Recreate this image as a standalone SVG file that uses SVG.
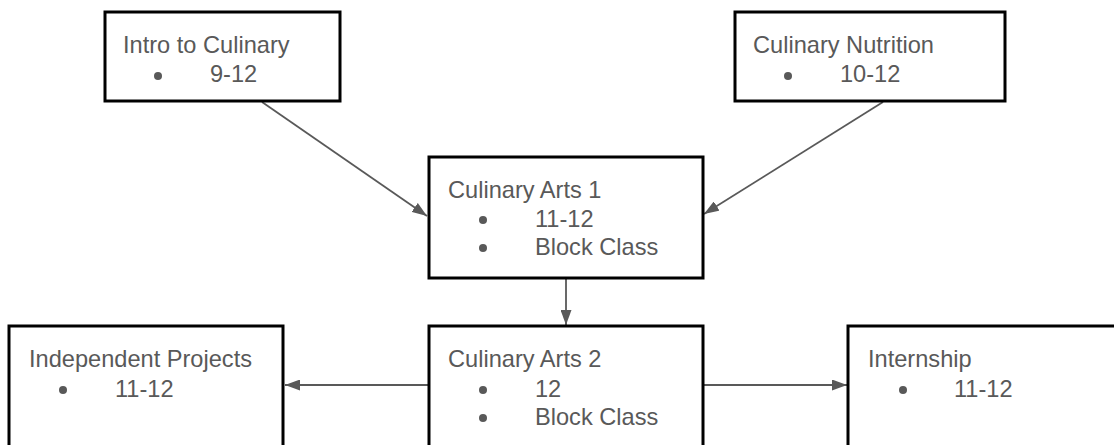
<svg xmlns="http://www.w3.org/2000/svg" width="1114" height="445" viewBox="0 0 1114 445">
<style>
.box{fill:#fff;stroke:#000;stroke-width:3}
.t{font-family:"Liberation Sans",Arial,sans-serif;font-size:23.6px;fill:#595959}
.b{fill:#595959}
.c{stroke:#595959;stroke-width:1.8;fill:none;marker-end:url(#ah)}
</style>
<defs>
<marker id="ah" viewBox="0 0 10 10" refX="10" refY="5" markerWidth="15" markerHeight="11" markerUnits="userSpaceOnUse" orient="auto" preserveAspectRatio="none">
<path d="M0,0 L10,5 L0,10 z" fill="#595959"/>
</marker>
</defs>
<rect width="1114" height="445" fill="#fff"/>
<g id="connectors">
<path d="M262,102 L427,216" class="c"/>
<path d="M883,102 L704,214" class="c"/>
<path d="M566,279 L566,325" class="c"/>
<path d="M428,385 L285,385" class="c"/>
<path d="M704,385 L847,385" class="c"/>
</g>
<g id="intro">
<rect class="box" x="105" y="12" width="235" height="89"/>
<text class="t" x="123" y="53">Intro to Culinary</text>
<circle class="b" cx="158" cy="76" r="4"/>
<text class="t" x="210" y="82">9-12</text>
</g>
<g id="nutrition">
<rect class="box" x="735" y="12" width="270" height="89"/>
<text class="t" x="753" y="53">Culinary Nutrition</text>
<circle class="b" cx="788" cy="76" r="4"/>
<text class="t" x="840" y="82">10-12</text>
</g>
<g id="arts1">
<rect class="box" x="429" y="157" width="274" height="121"/>
<text class="t" x="448" y="198">Culinary Arts 1</text>
<circle class="b" cx="483" cy="220" r="4"/>
<text class="t" x="535" y="227">11-12</text>
<circle class="b" cx="483" cy="248" r="4"/>
<text class="t" x="535" y="255">Block Class</text>
</g>
<g id="arts2">
<rect class="box" x="429" y="326" width="274" height="140"/>
<text class="t" x="448" y="367">Culinary Arts 2</text>
<circle class="b" cx="483" cy="390" r="4"/>
<text class="t" x="535" y="397">12</text>
<circle class="b" cx="483" cy="418" r="4"/>
<text class="t" x="535" y="425">Block Class</text>
</g>
<g id="independent">
<rect class="box" x="9" y="326" width="274" height="140"/>
<text class="t" x="29" y="367">Independent Projects</text>
<circle class="b" cx="63" cy="390" r="4"/>
<text class="t" x="115" y="397">11-12</text>
</g>
<g id="internship">
<rect class="box" x="848" y="326" width="300" height="140"/>
<text class="t" x="868" y="367">Internship</text>
<circle class="b" cx="903" cy="390" r="4"/>
<text class="t" x="954" y="397">11-12</text>
</g>
</svg>
